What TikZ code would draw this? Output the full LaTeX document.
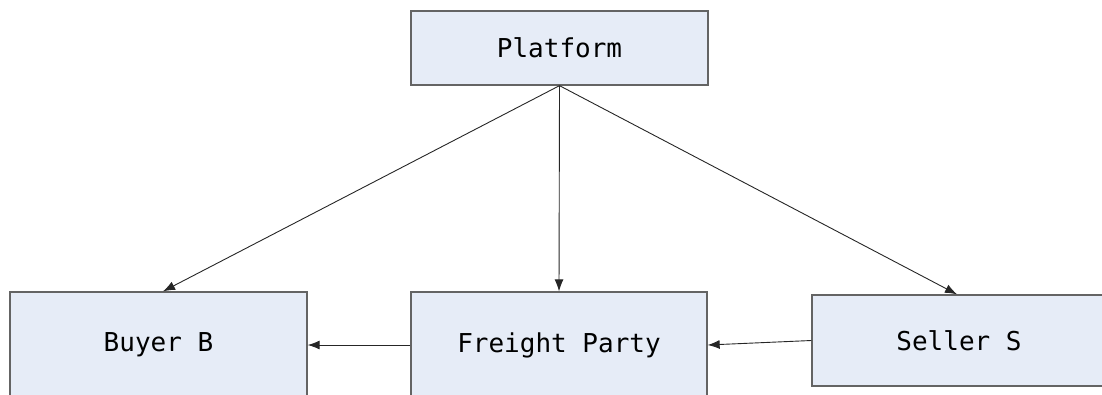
\documentclass[tikz,border=0pt]{standalone}
\usepackage{fontspec}
\setmainfont{DejaVu Sans Mono}
\usetikzlibrary{arrows.meta}
\definecolor{boxfill}{RGB}{230,236,247}
\definecolor{boxline}{RGB}{100,100,100}
\tikzset{
  entity/.style={draw=boxline, line width=1.3pt, fill=boxfill, inner sep=0pt,
    font=\fontsize{26}{30}\selectfont},
  link/.style={draw=black!85, line width=0.9pt, -{Latex[length=12pt,width=9pt]}}
}
\begin{document}
\begin{tikzpicture}[x=1pt,y=-1pt]
\useasboundingbox (0,0) rectangle (1102,394);
\clip (0,0) rectangle (1102,394);
\node[entity, minimum width=297pt, minimum height=74pt] (p) at (559.5,48) {Platform};
\node[entity, minimum width=297pt, minimum height=106pt] (b) at (158.5,345) {Buyer B};
\node[entity, minimum width=296pt, minimum height=106pt] (f) at (559,345) {Freight Party};
\node[entity, minimum width=294pt, minimum height=91pt] (s) at (959,340.5) {Seller S};
\draw[link] (p.south) -- ([xshift=4.5pt]b.north);
\draw[link] (p.south) -- (f.north);
\draw[link] (p.south) -- ([xshift=-2pt]s.north);
\draw[link] (s.west) -- (f.east);
\draw[link] (f.west) -- (b.east);
\end{tikzpicture}
\end{document}
